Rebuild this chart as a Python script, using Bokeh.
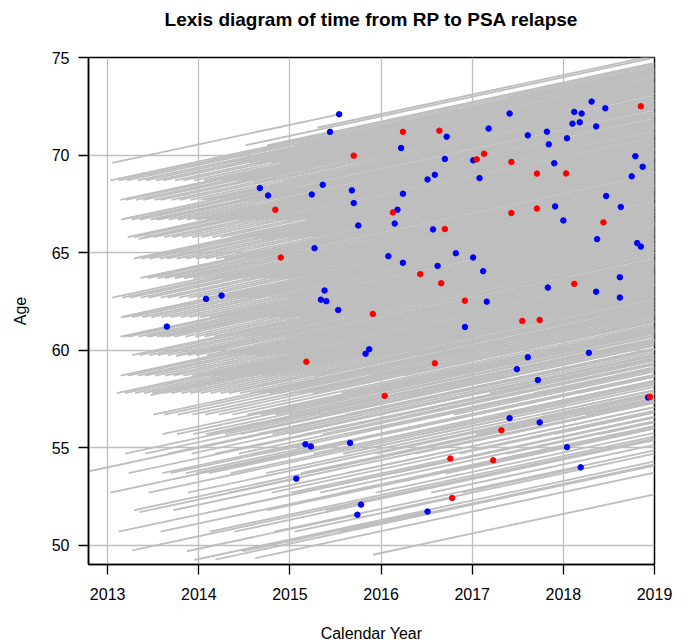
from bokeh.plotting import figure
from bokeh.models import FixedTicker, PrintfTickFormatter, Range1d, Title
from bokeh.embed import file_html
from bokeh.resources import INLINE

# ---------------- data ----------------
x_ticks = [2013, 2014, 2015, 2016, 2017, 2018, 2019]
y_ticks = [50, 55, 60, 65, 70, 75]
study_end = 2019.0

# follow-up ended before study end without relapse (blue): exit year, exit age, age at RP
blue_year = [2015.54, 2015.44, 2016.22, 2014.67, 2015.36, 2014.76, 2015.24, 2015.68, 2015.70, 2016.24,
             2016.18, 2015.75, 2016.15, 2015.27, 2016.08, 2016.24, 2015.38, 2014.08, 2014.25, 2015.34,
             2015.40, 2018.31, 2018.12, 2018.20, 2018.46, 2017.41, 2018.10, 2018.18, 2018.36, 2017.18,
             2016.72, 2017.61, 2017.82, 2018.04, 2017.84, 2017.01, 2016.70, 2017.90, 2018.79, 2018.87,
             2018.75, 2016.51, 2016.59, 2017.08, 2018.47, 2018.63, 2017.91, 2018.00, 2016.57, 2018.37,
             2018.81, 2018.85, 2016.82, 2017.01, 2016.62, 2017.12, 2017.83, 2018.62, 2018.36, 2018.62,
             2017.16, 2016.92, 2017.61, 2018.28, 2017.49, 2017.72, 2018.93, 2017.41, 2017.74, 2018.04,
             2018.19, 2015.53, 2013.65, 2015.87, 2015.83, 2015.17, 2015.23, 2015.66, 2015.07, 2015.78,
             2015.74, 2016.51]
blue_age = [72.09, 71.19, 70.36, 68.31, 68.48, 67.93, 67.98, 68.19, 67.54, 68.02,
            67.20, 66.39, 66.49, 65.23, 64.82, 64.48, 63.06, 62.63, 62.80, 62.59,
            62.51, 72.74, 72.21, 72.13, 72.40, 72.13, 71.61, 71.68, 71.47, 71.36,
            70.94, 71.01, 71.20, 70.86, 70.55, 69.73, 69.80, 69.58, 69.94, 69.40,
            68.91, 68.75, 68.99, 68.82, 67.90, 67.34, 67.37, 66.65, 66.19, 65.69,
            65.49, 65.31, 64.97, 64.75, 64.32, 64.05, 63.21, 63.74, 63.00, 62.70,
            62.49, 61.19, 59.64, 59.87, 59.03, 58.47, 57.58, 56.52, 56.30, 55.03,
            54.00, 62.06, 61.21, 60.05, 59.82, 55.18, 55.07, 55.25, 53.42, 52.09,
            51.57, 51.73]
blue_entry_age = [69.6, 70.5, 68.7, 67.7, 67.7, 66.7, 66.7, 66.7, 66.7, 66.7,
                  65.7, 65.7, 64.7, 63.7, 63.7, 62.7, 61.7, 61.7, 61.7, 60.7,
                  60.7, 70.5, 69.6, 70.5, 70.5, 69.6, 69.6, 68.7, 69.6, 68.7,
                  68.7, 69.6, 68.7, 68.7, 67.7, 67.7, 67.7, 67.7, 67.7, 66.7,
                  66.7, 66.7, 66.7, 66.7, 65.7, 65.7, 65.7, 64.7, 64.7, 63.7,
                  63.7, 63.7, 62.7, 62.7, 62.7, 62.7, 61.7, 61.7, 61.7, 60.7,
                  60.7, 59.7, 57.7, 57.7, 57.7, 56.7, 55.7, 54.7, 54.7, 53.7,
                  52.7, 60.7, 60.7, 58.7, 58.7, 53.7, 53.7, 53.7, 51.7, 50.7,
                  49.7, 49.7]

# PSA relapse (red): relapse year, age at relapse, age at RP
red_year = [2016.24, 2015.70, 2014.84, 2016.13, 2014.90, 2018.85, 2016.64, 2017.13, 2017.05, 2017.43,
            2017.71, 2018.03, 2017.43, 2017.71, 2018.44, 2016.70, 2016.43, 2016.66, 2018.12, 2016.92,
            2017.55, 2017.74, 2016.59, 2018.95, 2017.32, 2016.76, 2017.23, 2016.78, 2015.91, 2015.18,
            2016.04]
red_age = [71.19, 69.97, 67.20, 67.06, 64.75, 72.50, 71.25, 70.07, 69.78, 69.65,
           69.05, 69.06, 67.03, 67.26, 66.55, 66.21, 63.90, 63.43, 63.40, 62.54,
           61.50, 61.55, 59.33, 57.61, 55.90, 54.45, 54.36, 52.43, 61.86, 59.41,
           57.66]
red_entry_age = [69.6, 68.7, 65.7, 65.7, 63.7, 70.5, 69.6, 68.7, 67.7, 67.7,
                 67.7, 66.7, 65.7, 65.7, 64.7, 64.7, 61.7, 61.7, 61.7, 60.7,
                 59.7, 59.7, 57.7, 55.7, 53.7, 52.7, 52.7, 50.7, 59.7, 57.7,
                 55.7]

# still followed at study end: age at RP and the RP dates of the men of that age
cens_age = [71.4, 70.5, 69.6, 68.7, 67.7, 66.7, 65.8, 64.7, 63.7, 62.7, 61.7, 60.7, 59.75,
            58.7, 57.8, 56.7, 55.7, 54.7, 53.7, 52.7, 51.8, 50.7, 49.74, 49.25, 49.27, 49.35, 49.52]
cens_rp_years = [
    [2015.30, 2016.02, 2016.74, 2017.61, 2018.30],
    [2014.51, 2014.78, 2015.05, 2015.41, 2015.86, 2016.33, 2016.90, 2017.52, 2018.14],
    [2014.28, 2014.40, 2014.55, 2014.66, 2014.80, 2014.93, 2015.07, 2015.22, 2015.48, 2015.80,
     2016.15, 2016.52, 2016.96, 2017.41, 2017.88, 2018.35],
    [2013.03, 2013.12, 2013.21, 2013.33, 2013.42, 2013.53, 2013.61, 2013.74, 2013.83, 2013.95,
     2014.06, 2014.17, 2014.26, 2014.38, 2014.47, 2014.59, 2014.71, 2014.80, 2014.93, 2015.04,
     2015.16, 2015.27, 2015.55, 2015.91, 2016.28, 2016.72, 2017.18, 2017.66, 2018.17, 2018.63],
    [2013.14, 2013.20, 2013.31, 2013.39, 2013.51, 2013.58, 2013.70, 2013.79, 2013.91, 2014.02,
     2014.11, 2014.24, 2014.33, 2014.45, 2014.54, 2014.66, 2014.75, 2014.88, 2014.97, 2015.10,
     2015.21, 2015.33, 2015.62, 2015.99, 2016.39, 2016.84, 2017.30, 2017.79, 2018.27],
    [2013.15, 2013.26, 2013.35, 2013.47, 2013.56, 2013.67, 2013.77, 2013.87, 2013.99, 2014.08,
     2014.20, 2014.29, 2014.41, 2014.52, 2014.62, 2014.73, 2014.85, 2014.95, 2015.07, 2015.18,
     2015.30, 2015.45, 2015.77, 2016.12, 2016.55, 2016.98, 2017.47, 2017.94, 2018.44],
    [2013.22, 2013.29, 2013.40, 2013.50, 2013.62, 2013.71, 2013.82, 2013.93, 2014.03, 2014.15,
     2014.24, 2014.36, 2014.49, 2014.58, 2014.69, 2014.82, 2014.91, 2015.02, 2015.13, 2015.25,
     2015.38, 2015.68, 2016.03, 2016.44, 2016.88, 2017.37, 2017.85, 2018.33],
    [2013.29, 2013.37, 2013.46, 2013.57, 2013.65, 2013.76, 2013.86, 2013.97, 2014.07, 2014.19,
     2014.28, 2014.40, 2014.51, 2014.61, 2014.74, 2014.84, 2014.96, 2015.08, 2015.19, 2015.31,
     2015.50, 2015.83, 2016.21, 2016.63, 2017.08, 2017.56, 2018.05, 2018.52],
    [2013.36, 2013.44, 2013.55, 2013.63, 2013.74, 2013.84, 2013.94, 2014.05, 2014.16, 2014.27,
     2014.37, 2014.48, 2014.57, 2014.70, 2014.79, 2014.90, 2015.01, 2015.14, 2015.24, 2015.36,
     2015.60, 2015.96, 2016.34, 2016.77, 2017.24, 2017.71, 2018.22],
    [2013.05, 2013.16, 2013.24, 2013.36, 2013.45, 2013.58, 2013.66, 2013.78, 2013.89, 2013.98,
     2014.10, 2014.21, 2014.31, 2014.43, 2014.53, 2014.64, 2014.77, 2014.87, 2014.99, 2015.11,
     2015.22, 2015.35, 2015.65, 2016.00, 2016.41, 2016.86, 2017.33, 2017.82, 2018.31],
    [2013.18, 2013.27, 2013.38, 2013.48, 2013.59, 2013.69, 2013.80, 2013.90, 2014.01, 2014.12,
     2014.23, 2014.34, 2014.46, 2014.55, 2014.67, 2014.78, 2014.89, 2015.00, 2015.12, 2015.23,
     2015.37, 2015.71, 2016.08, 2016.47, 2016.93, 2017.40, 2017.89, 2018.39],
    [2013.18, 2013.23, 2013.34, 2013.43, 2013.54, 2013.64, 2013.73, 2013.85, 2013.96, 2014.06,
     2014.18, 2014.27, 2014.39, 2014.50, 2014.60, 2014.72, 2014.83, 2014.94, 2015.06, 2015.17,
     2015.29, 2015.58, 2015.93, 2016.32, 2016.74, 2017.21, 2017.69, 2018.19, 2018.66],
    [2013.27, 2013.35, 2013.46, 2013.55, 2013.66, 2013.76, 2013.88, 2013.97, 2014.09, 2014.20,
     2014.30, 2014.42, 2014.52, 2014.63, 2014.76, 2014.86, 2014.98, 2015.09, 2015.20, 2015.32,
     2015.63, 2016.01, 2016.40, 2016.83, 2017.29, 2017.78, 2018.28],
    [2013.14, 2013.22, 2013.33, 2013.41, 2013.52, 2013.63, 2013.72, 2013.83, 2013.93, 2014.04,
     2014.14, 2014.25, 2014.36, 2014.47, 2014.58, 2014.69, 2014.81, 2014.92, 2015.03, 2015.15,
     2015.27, 2015.53, 2015.88, 2016.25, 2016.68, 2017.14, 2017.62, 2018.11, 2018.58],
    [2013.10, 2013.19, 2013.30, 2013.40, 2013.49, 2013.61, 2013.70, 2013.81, 2013.91, 2014.02,
     2014.13, 2014.24, 2014.33, 2014.45, 2014.56, 2014.66, 2014.78, 2014.88, 2015.00, 2015.12,
     2015.25, 2015.57, 2015.92, 2016.30, 2016.73, 2017.19, 2017.68, 2018.16],
    [2013.50, 2013.62, 2013.77, 2013.93, 2014.07, 2014.22, 2014.37, 2014.53, 2014.68, 2014.84,
     2014.99, 2015.15, 2015.32, 2015.61, 2015.97, 2016.36, 2016.80, 2017.27, 2017.76, 2018.25],
    [2013.60, 2013.76, 2013.94, 2014.11, 2014.29, 2014.46, 2014.64, 2014.81, 2014.99, 2015.17,
     2015.36, 2015.67, 2016.04, 2016.45, 2016.91, 2017.39, 2017.90, 2018.40],
    [2013.19, 2013.41, 2013.66, 2013.92, 2014.18, 2014.44, 2014.71, 2014.97, 2015.26, 2015.58,
     2015.95, 2016.38, 2016.86, 2017.37],
    [2012.70, 2013.23, 2013.60, 2013.97, 2014.35, 2014.74, 2015.15, 2015.62, 2016.15, 2016.72],
    [2013.03, 2013.45, 2013.88, 2014.33, 2014.80, 2015.33, 2015.94, 2016.55],
    [2013.29, 2013.72, 2014.21, 2014.75, 2015.40, 2016.10],
    [2013.12, 2013.58, 2014.12, 2014.83, 2015.55],
    [2013.27],
    [2013.95],
    [2014.18],
    [2014.62],
    [2015.91],
]

# ---------------- figure ----------------
FONT = "Liberation Sans"
p = figure(frame_width=566, frame_height=507,
           x_range=Range1d(2012.79, 2019.0), y_range=Range1d(49.02, 75.0),
           output_backend="svg", toolbar_location=None,
           min_border_left=88, min_border_right=33, min_border_top=57, min_border_bottom=76,
           title="Lexis diagram of time from RP to PSA relapse")

p.title.align = "center"
p.title.text_font = FONT
p.title.text_font_size = "19px"
p.title.text_font_style = "bold"
p.title.text_color = "black"
p.title.standoff = 10
# blank band between the title and the plot box
p.add_layout(Title(text=" ", text_font_size="10px", standoff=10), "above")

p.outline_line_color = "black"
p.outline_line_width = 1.5
p.background_fill_color = "white"
p.border_fill_color = "white"

for ax in (p.xaxis[0], p.yaxis[0]):
    ax.axis_line_color = "black"
    ax.axis_line_width = 1.5
    ax.major_tick_line_color = "black"
    ax.major_tick_line_width = 1.3
    ax.major_tick_out = 10
    ax.major_tick_in = 0
    ax.minor_tick_line_color = None
    ax.major_label_text_font = FONT
    ax.major_label_text_font_size = "16px"
    ax.major_label_text_color = "black"
    ax.axis_label_text_font = FONT
    ax.axis_label_text_font_size = "16px"
    ax.axis_label_text_font_style = "normal"
    ax.axis_label_text_color = "black"
    ax.formatter = PrintfTickFormatter(format="%d")

p.xaxis.ticker = FixedTicker(ticks=x_ticks)
p.yaxis.ticker = FixedTicker(ticks=y_ticks)
p.xaxis.axis_label = "Calendar Year"
p.yaxis.axis_label = "Age"
p.xaxis.major_label_standoff = 13
p.yaxis.major_label_standoff = 9
p.xaxis.axis_label_standoff = 22
p.yaxis.axis_label_standoff = 20

p.xgrid.ticker = FixedTicker(ticks=x_ticks)
p.ygrid.ticker = FixedTicker(ticks=y_ticks)
p.grid.grid_line_color = "#BEBEBE"
p.grid.grid_line_width = 1.3

# ---------------- Lexis lines ----------------
xs, ys = [], []
for yr, age, a0 in zip(blue_year + red_year, blue_age + red_age, blue_entry_age + red_entry_age):
    xs.append([yr - (age - a0), yr])
    ys.append([a0, age])
for a0, starts in zip(cens_age, cens_rp_years):
    for s in starts:
        xs.append([s, study_end])
        ys.append([a0, a0 + (study_end - s)])

p.multi_line(xs, ys, line_color="#BEBEBE", line_width=1.85)

p.scatter(blue_year, blue_age, size=5.5, fill_color="#0000FF", line_color="#0000FF")
p.scatter(red_year, red_age, size=5.5, fill_color="#FF0000", line_color="#FF0000")

open("out.html", "w").write(file_html(p, INLINE))
